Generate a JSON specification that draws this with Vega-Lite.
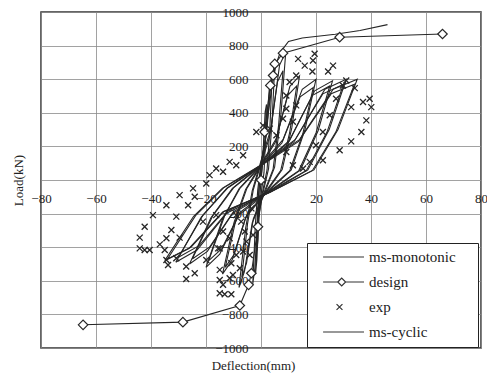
{
  "$schema": "https://vega.github.io/schema/vega-lite/v6.json",
  "width": 440,
  "height": 336,
  "autosize": {"type": "none"},
  "padding": {"left": 41, "top": 12, "right": 6, "bottom": 32},
  "background": "white",
  "config": {
    "view": {"stroke": "#333", "strokeWidth": 1.5},
    "font": "Liberation Serif"
  },
  "datasets": {
    "cyclic": [
      {"loop":"L0","i":0,"x":-1.5,"y":-420},{"loop":"L0","i":1,"x":-1.05,"y":-189},{"loop":"L0","i":2,"x":-0.6,"y":-42},{"loop":"L0","i":3,"x":0,"y":68},{"loop":"L0","i":4,"x":0.8,"y":180},{"loop":"L0","i":5,"x":1.5,"y":405},{"loop":"L0","i":6,"x":2,"y":450},{"loop":"L0","i":7,"x":1.6,"y":225},{"loop":"L0","i":8,"x":1.1,"y":45},{"loop":"L0","i":9,"x":0.2,"y":-63},{"loop":"L0","i":10,"x":-0.6,"y":-168},{"loop":"L0","i":11,"x":-1.125,"y":-357},{"loop":"L0","i":12,"x":-1.5,"y":-420},
      {"loop":"L1","i":0,"x":-3,"y":-620},{"loop":"L1","i":1,"x":-2.1,"y":-279},{"loop":"L1","i":2,"x":-1.2,"y":-62},{"loop":"L1","i":3,"x":0,"y":102},{"loop":"L1","i":4,"x":2,"y":272},{"loop":"L1","i":5,"x":3.75,"y":612},{"loop":"L1","i":6,"x":5,"y":680},{"loop":"L1","i":7,"x":4,"y":340},{"loop":"L1","i":8,"x":2.75,"y":68},{"loop":"L1","i":9,"x":0.5,"y":-93},{"loop":"L1","i":10,"x":-1.2,"y":-248},{"loop":"L1","i":11,"x":-2.25,"y":-527},{"loop":"L1","i":12,"x":-3,"y":-620},
      {"loop":"L1b","i":0,"x":-2,"y":-560},{"loop":"L1b","i":1,"x":-1.4,"y":-252},{"loop":"L1b","i":2,"x":-0.8,"y":-56},{"loop":"L1b","i":3,"x":0,"y":90},{"loop":"L1b","i":4,"x":1.6,"y":240},{"loop":"L1b","i":5,"x":3,"y":540},{"loop":"L1b","i":6,"x":4,"y":600},{"loop":"L1b","i":7,"x":3.2,"y":300},{"loop":"L1b","i":8,"x":2.2,"y":60},{"loop":"L1b","i":9,"x":0.4,"y":-84},{"loop":"L1b","i":10,"x":-0.8,"y":-224},{"loop":"L1b","i":11,"x":-1.5,"y":-476},{"loop":"L1b","i":12,"x":-2,"y":-560},
      {"loop":"L2","i":0,"x":-8,"y":-640},{"loop":"L2","i":1,"x":-5.6,"y":-288},{"loop":"L2","i":2,"x":-3.2,"y":-64},{"loop":"L2","i":3,"x":0,"y":114},{"loop":"L2","i":4,"x":3.6,"y":304},{"loop":"L2","i":5,"x":6.75,"y":684},{"loop":"L2","i":6,"x":9,"y":760},{"loop":"L2","i":7,"x":7.2,"y":380},{"loop":"L2","i":8,"x":4.95,"y":76},{"loop":"L2","i":9,"x":0.9,"y":-96},{"loop":"L2","i":10,"x":-3.2,"y":-256},{"loop":"L2","i":11,"x":-6,"y":-544},{"loop":"L2","i":12,"x":-8,"y":-640},
      {"loop":"L2b","i":0,"x":-7,"y":-580},{"loop":"L2b","i":1,"x":-4.9,"y":-261},{"loop":"L2b","i":2,"x":-2.8,"y":-58},{"loop":"L2b","i":3,"x":0,"y":98},{"loop":"L2b","i":4,"x":3.2,"y":260},{"loop":"L2b","i":5,"x":6,"y":585},{"loop":"L2b","i":6,"x":8,"y":650},{"loop":"L2b","i":7,"x":6.4,"y":325},{"loop":"L2b","i":8,"x":4.4,"y":65},{"loop":"L2b","i":9,"x":0.8,"y":-87},{"loop":"L2b","i":10,"x":-2.8,"y":-232},{"loop":"L2b","i":11,"x":-5.25,"y":-493},{"loop":"L2b","i":12,"x":-7,"y":-580},
      {"loop":"L3","i":0,"x":-14,"y":-560},{"loop":"L3","i":1,"x":-9.8,"y":-252},{"loop":"L3","i":2,"x":-5.6,"y":-56},{"loop":"L3","i":3,"x":0,"y":93},{"loop":"L3","i":4,"x":5.6,"y":248},{"loop":"L3","i":5,"x":10.5,"y":558},{"loop":"L3","i":6,"x":14,"y":620},{"loop":"L3","i":7,"x":11.2,"y":310},{"loop":"L3","i":8,"x":7.7,"y":62},{"loop":"L3","i":9,"x":1.4,"y":-84},{"loop":"L3","i":10,"x":-5.6,"y":-224},{"loop":"L3","i":11,"x":-10.5,"y":-476},{"loop":"L3","i":12,"x":-14,"y":-560},
      {"loop":"L3b","i":0,"x":-13,"y":-520},{"loop":"L3b","i":1,"x":-9.1,"y":-234},{"loop":"L3b","i":2,"x":-5.2,"y":-52},{"loop":"L3b","i":3,"x":0,"y":84},{"loop":"L3b","i":4,"x":5.2,"y":224},{"loop":"L3b","i":5,"x":9.75,"y":504},{"loop":"L3b","i":6,"x":13,"y":560},{"loop":"L3b","i":7,"x":10.4,"y":280},{"loop":"L3b","i":8,"x":7.15,"y":56},{"loop":"L3b","i":9,"x":1.3,"y":-78},{"loop":"L3b","i":10,"x":-5.2,"y":-208},{"loop":"L3b","i":11,"x":-9.75,"y":-442},{"loop":"L3b","i":12,"x":-13,"y":-520},
      {"loop":"L4","i":0,"x":-20,"y":-520},{"loop":"L4","i":1,"x":-14,"y":-234},{"loop":"L4","i":2,"x":-8,"y":-52},{"loop":"L4","i":3,"x":0,"y":90},{"loop":"L4","i":4,"x":8,"y":240},{"loop":"L4","i":5,"x":15,"y":540},{"loop":"L4","i":6,"x":20,"y":600},{"loop":"L4","i":7,"x":16,"y":300},{"loop":"L4","i":8,"x":11,"y":60},{"loop":"L4","i":9,"x":2,"y":-78},{"loop":"L4","i":10,"x":-8,"y":-208},{"loop":"L4","i":11,"x":-15,"y":-442},{"loop":"L4","i":12,"x":-20,"y":-520},
      {"loop":"L4b","i":0,"x":-19,"y":-480},{"loop":"L4b","i":1,"x":-13.3,"y":-216},{"loop":"L4b","i":2,"x":-7.6,"y":-48},{"loop":"L4b","i":3,"x":0,"y":83},{"loop":"L4b","i":4,"x":7.6,"y":220},{"loop":"L4b","i":5,"x":14.25,"y":495},{"loop":"L4b","i":6,"x":19,"y":550},{"loop":"L4b","i":7,"x":15.2,"y":275},{"loop":"L4b","i":8,"x":10.45,"y":55},{"loop":"L4b","i":9,"x":1.9,"y":-72},{"loop":"L4b","i":10,"x":-7.6,"y":-192},{"loop":"L4b","i":11,"x":-14.25,"y":-408},{"loop":"L4b","i":12,"x":-19,"y":-480},
      {"loop":"L5","i":0,"x":-26,"y":-500},{"loop":"L5","i":1,"x":-18.2,"y":-225},{"loop":"L5","i":2,"x":-10.4,"y":-50},{"loop":"L5","i":3,"x":0,"y":89},{"loop":"L5","i":4,"x":10.4,"y":236},{"loop":"L5","i":5,"x":19.5,"y":531},{"loop":"L5","i":6,"x":26,"y":590},{"loop":"L5","i":7,"x":20.8,"y":295},{"loop":"L5","i":8,"x":14.3,"y":59},{"loop":"L5","i":9,"x":2.6,"y":-75},{"loop":"L5","i":10,"x":-10.4,"y":-200},{"loop":"L5","i":11,"x":-19.5,"y":-425},{"loop":"L5","i":12,"x":-26,"y":-500},
      {"loop":"L5b","i":0,"x":-25,"y":-470},{"loop":"L5b","i":1,"x":-17.5,"y":-212},{"loop":"L5b","i":2,"x":-10,"y":-47},{"loop":"L5b","i":3,"x":0,"y":84},{"loop":"L5b","i":4,"x":10,"y":224},{"loop":"L5b","i":5,"x":18.75,"y":504},{"loop":"L5b","i":6,"x":25,"y":560},{"loop":"L5b","i":7,"x":20,"y":280},{"loop":"L5b","i":8,"x":13.75,"y":56},{"loop":"L5b","i":9,"x":2.5,"y":-71},{"loop":"L5b","i":10,"x":-10,"y":-188},{"loop":"L5b","i":11,"x":-18.75,"y":-400},{"loop":"L5b","i":12,"x":-25,"y":-470},
      {"loop":"L6","i":0,"x":-31,"y":-490},{"loop":"L6","i":1,"x":-21.7,"y":-221},{"loop":"L6","i":2,"x":-12.4,"y":-49},{"loop":"L6","i":3,"x":0,"y":90},{"loop":"L6","i":4,"x":12.4,"y":240},{"loop":"L6","i":5,"x":23.25,"y":540},{"loop":"L6","i":6,"x":31,"y":600},{"loop":"L6","i":7,"x":24.8,"y":300},{"loop":"L6","i":8,"x":17.05,"y":60},{"loop":"L6","i":9,"x":3.1,"y":-74},{"loop":"L6","i":10,"x":-12.4,"y":-196},{"loop":"L6","i":11,"x":-23.25,"y":-417},{"loop":"L6","i":12,"x":-31,"y":-490},
      {"loop":"L6b","i":0,"x":-30,"y":-460},{"loop":"L6b","i":1,"x":-21,"y":-207},{"loop":"L6b","i":2,"x":-12,"y":-46},{"loop":"L6b","i":3,"x":0,"y":86},{"loop":"L6b","i":4,"x":12,"y":228},{"loop":"L6b","i":5,"x":22.5,"y":513},{"loop":"L6b","i":6,"x":30,"y":570},{"loop":"L6b","i":7,"x":24,"y":285},{"loop":"L6b","i":8,"x":16.5,"y":57},{"loop":"L6b","i":9,"x":3,"y":-69},{"loop":"L6b","i":10,"x":-12,"y":-184},{"loop":"L6b","i":11,"x":-22.5,"y":-391},{"loop":"L6b","i":12,"x":-30,"y":-460},
      {"loop":"L7","i":0,"x":-35,"y":-480},{"loop":"L7","i":1,"x":-24.5,"y":-216},{"loop":"L7","i":2,"x":-14,"y":-48},{"loop":"L7","i":3,"x":0,"y":90},{"loop":"L7","i":4,"x":14,"y":240},{"loop":"L7","i":5,"x":26.25,"y":540},{"loop":"L7","i":6,"x":35,"y":600},{"loop":"L7","i":7,"x":28,"y":300},{"loop":"L7","i":8,"x":19.25,"y":60},{"loop":"L7","i":9,"x":3.5,"y":-72},{"loop":"L7","i":10,"x":-14,"y":-192},{"loop":"L7","i":11,"x":-26.25,"y":-408},{"loop":"L7","i":12,"x":-35,"y":-480},
      {"loop":"L7b","i":0,"x":-34,"y":-470},{"loop":"L7b","i":1,"x":-23.8,"y":-212},{"loop":"L7b","i":2,"x":-13.6,"y":-47},{"loop":"L7b","i":3,"x":0,"y":86},{"loop":"L7b","i":4,"x":13.6,"y":228},{"loop":"L7b","i":5,"x":25.5,"y":513},{"loop":"L7b","i":6,"x":34,"y":570},{"loop":"L7b","i":7,"x":27.2,"y":285},{"loop":"L7b","i":8,"x":18.7,"y":57},{"loop":"L7b","i":9,"x":3.4,"y":-71},{"loop":"L7b","i":10,"x":-13.6,"y":-188},{"loop":"L7b","i":11,"x":-25.5,"y":-400},{"loop":"L7b","i":12,"x":-34,"y":-470}
    ],
    "mono": [
      {"i":0,"x":0,"y":0},{"i":1,"x":1,"y":160},{"i":2,"x":2.5,"y":380},{"i":3,"x":4,"y":560},{"i":4,"x":5.5,"y":690},{"i":5,"x":7,"y":760},{"i":6,"x":10,"y":825},{"i":7,"x":15,"y":845},{"i":8,"x":27,"y":868},{"i":9,"x":36,"y":890},{"i":10,"x":46,"y":925}
    ],
    "design": [
      {"i":0,"x":-64.7,"y":-862},{"i":1,"x":-28.4,"y":-846},{"i":2,"x":-7.7,"y":-747},{"i":3,"x":-4.5,"y":-624},{"i":4,"x":-3.5,"y":-555},{"i":5,"x":-1.1,"y":-278},{"i":6,"x":0,"y":0},{"i":7,"x":1.3,"y":286},{"i":8,"x":3.4,"y":563},{"i":9,"x":4.4,"y":622},{"i":10,"x":5,"y":691},{"i":11,"x":8,"y":755},{"i":12,"x":28.6,"y":850},{"i":13,"x":66,"y":869}
    ],
    "exp": [
      {"series":"exp","x":19.5,"y":751},{"series":"exp","x":18.9,"y":711},{"series":"exp","x":15.9,"y":681},{"series":"exp","x":18.7,"y":646},{"series":"exp","x":13.5,"y":721},{"series":"exp","x":26.2,"y":681},{"series":"exp","x":24.4,"y":646},{"series":"exp","x":34.1,"y":547},{"series":"exp","x":32.8,"y":434},{"series":"exp","x":37.1,"y":464},{"series":"exp","x":39.5,"y":484},{"series":"exp","x":40.1,"y":434},{"series":"exp","x":38.3,"y":355},{"series":"exp","x":36.5,"y":286},{"series":"exp","x":32.8,"y":230},{"series":"exp","x":28.6,"y":177},{"series":"exp","x":22.5,"y":118},{"series":"exp","x":9.2,"y":503},{"series":"exp","x":10.4,"y":583},{"series":"exp","x":12.8,"y":622},{"series":"exp","x":9.2,"y":424},{"series":"exp","x":12.8,"y":444},{"series":"exp","x":8,"y":365},{"series":"exp","x":11.6,"y":347},{"series":"exp","x":3.2,"y":306},{"series":"exp","x":5.6,"y":266},{"series":"exp","x":9.2,"y":167},{"series":"exp","x":11.6,"y":88},{"series":"exp","x":15.3,"y":68},{"series":"exp","x":17.7,"y":108},{"series":"exp","x":20,"y":207},{"series":"exp","x":22.5,"y":286},{"series":"exp","x":25,"y":385},{"series":"exp","x":27.3,"y":484},{"series":"exp","x":29.8,"y":563},{"series":"exp","x":31,"y":592},{"series":"exp","x":-1.7,"y":286},{"series":"exp","x":0.7,"y":325},{"series":"exp","x":-9,"y":88},{"series":"exp","x":-13.8,"y":49},{"series":"exp","x":-18.7,"y":29},{"series":"exp","x":-16.3,"y":68},{"series":"exp","x":-11.4,"y":108},{"series":"exp","x":-6.5,"y":147},{"series":"exp","x":-19.9,"y":-21},{"series":"exp","x":-24.7,"y":-50},
      {"series":"exp","x":-29.6,"y":-90},{"series":"exp","x":-26.5,"y":-150},{"series":"exp","x":-24.1,"y":-100},{"series":"exp","x":-34.4,"y":-150},{"series":"exp","x":-39.3,"y":-209},{"series":"exp","x":-42.3,"y":-278},{"series":"exp","x":-44.1,"y":-343},{"series":"exp","x":-44.1,"y":-407},{"series":"exp","x":-42.3,"y":-417},{"series":"exp","x":-40.5,"y":-417},{"series":"exp","x":-36.8,"y":-383},{"series":"exp","x":-34.4,"y":-347},{"series":"exp","x":-35,"y":-417},{"series":"exp","x":-32.6,"y":-298},{"series":"exp","x":-30.8,"y":-218},{"series":"exp","x":-29.6,"y":-343},{"series":"exp","x":-34.4,"y":-476},{"series":"exp","x":-33.8,"y":-506},{"series":"exp","x":-30.8,"y":-466},{"series":"exp","x":-27.2,"y":-515},{"series":"exp","x":-24.1,"y":-555},{"series":"exp","x":-27.2,"y":-589},{"series":"exp","x":-19.9,"y":-476},{"series":"exp","x":-15.6,"y":-407},{"series":"exp","x":-15,"y":-535},{"series":"exp","x":-15,"y":-595},{"series":"exp","x":-13.8,"y":-624},{"series":"exp","x":-15,"y":-674},{"series":"exp","x":-13.2,"y":-680},{"series":"exp","x":-10.8,"y":-680},{"series":"exp","x":-11.4,"y":-585},{"series":"exp","x":-10.2,"y":-565},{"series":"exp","x":-10.8,"y":-496},{"series":"exp","x":-9,"y":-446},{"series":"exp","x":-7.7,"y":-525},{"series":"exp","x":-6.5,"y":-426},{"series":"exp","x":-5.3,"y":-367},{"series":"exp","x":-5.9,"y":-307},{"series":"exp","x":-7.2,"y":-248},{"series":"exp","x":-9,"y":-209},{"series":"exp","x":-13.8,"y":-307},{"series":"exp","x":-15,"y":-407},{"series":"exp","x":-21.1,"y":-248},{"series":"exp","x":-16.3,"y":-209},{"series":"exp","x":-11.4,"y":-347},{"series":"exp","x":-3.5,"y":-169},{"series":"exp","x":-4.1,"y":-446},{"series":"exp","x":-2.9,"y":-327}
    ]
  },
  "encoding": {
    "x": {
      "field": "x", "type": "quantitative",
      "scale": {"domain": [-80, 80], "nice": false, "zero": false},
      "axis": {
        "values": [-80, -60, -40, -20, 0, 20, 40, 60, 80],
        "offset": -168, "grid": true, "gridColor": "#8a8a8a", "gridWidth": 0.8,
        "domain": false, "ticks": false, "labelPadding": 12, "labelFlush": false, "labelOverlap": false,
        "labelFont": "Liberation Serif", "labelFontSize": 13, "labelColor": "#222",
        "labelExpr": "datum.value == 0 ? '' : format(datum.value, 'd')",
        "title": "Deflection(mm)", "titleFont": "Liberation Serif", "titleFontSize": 13, "titleFontWeight": "normal", "titleColor": "#222",
        "titleX": 212, "titleY": 185, "titleBaseline": "middle", "titleAlign": "center"
      }
    },
    "y": {
      "field": "y", "type": "quantitative",
      "scale": {"domain": [-1000, 1000], "nice": false, "zero": false},
      "axis": {
        "values": [-1000, -800, -600, -400, -200, 0, 200, 400, 600, 800, 1000],
        "offset": -220, "grid": true, "gridColor": "#8a8a8a", "gridWidth": 0.8,
        "domain": false, "ticks": false, "labelPadding": 13, "labelFlush": false, "labelOverlap": false,
        "labelFont": "Liberation Serif", "labelFontSize": 13, "labelColor": "#222",
        "labelExpr": "datum.value == 0 ? '' : format(datum.value, 'd')",
        "title": "Load(kN)", "titleFont": "Liberation Serif", "titleFontSize": 13, "titleFontWeight": "normal", "titleColor": "#222",
        "titleX": -243, "titleY": 168, "titleAngle": -90, "titleBaseline": "middle", "titleAlign": "center"
      }
    }
  },
  "layer": [
    {
      "data": {"name": "cyclic"},
      "mark": {"type": "line", "stroke": "#262626", "strokeWidth": 1.1},
      "encoding": {"detail": {"field": "loop"}, "order": {"field": "i", "type": "quantitative"}}
    },
    {
      "data": {"name": "mono"},
      "mark": {"type": "line", "stroke": "#262626", "strokeWidth": 1.1},
      "encoding": {"order": {"field": "i", "type": "quantitative"}}
    },
    {
      "data": {"name": "design"},
      "mark": {"type": "line", "stroke": "#262626", "strokeWidth": 1.1},
      "encoding": {"order": {"field": "i", "type": "quantitative"}}
    },
    {
      "data": {"name": "design"},
      "mark": {"type": "point", "shape": "diamond", "filled": true, "fill": "white", "stroke": "#262626", "strokeWidth": 1.2, "size": 90, "opacity": 1}
    },
    {
      "data": {"name": "exp"},
      "mark": {"type": "point", "filled": false, "stroke": "#262626", "strokeWidth": 1.3, "size": 2500, "opacity": 1},
      "encoding": {
        "shape": {
          "field": "series", "type": "nominal",
          "scale": {
            "domain": ["ms-monotonic", "design", "exp", "ms-cyclic"],
            "range": [
              "M-0.67,0H1",
              "M-0.67,0H-0.07M0.25,0H1M-0.07,0L0.09,-0.16L0.25,0L0.09,0.16Z",
              "M-0.12,-0.12L0.12,0.12M-0.12,0.12L0.12,-0.12",
              "M-0.67,0H1"
            ]
          },
          "legend": {
            "title": null, "orient": "none", "legendX": 266, "legendY": 231, "direction": "vertical",
            "fillColor": "white", "strokeColor": "#222", "padding": 7,
            "symbolSize": 2401, "symbolStrokeColor": "#333", "symbolStrokeWidth": 1.2,
            "clipHeight": 14, "rowPadding": 10, "labelOffset": 4,
            "labelFont": "Liberation Serif", "labelFontSize": 15, "labelColor": "#222",
            "labelExpr": "datum.label + '\u00a0\u00a0\u00a0\u00a0\u200b'",
            "encode": {"legend": {"update": {"strokeWidth": {"value": 1.5}}}}
          }
        }
      }
    }
  ]
}
